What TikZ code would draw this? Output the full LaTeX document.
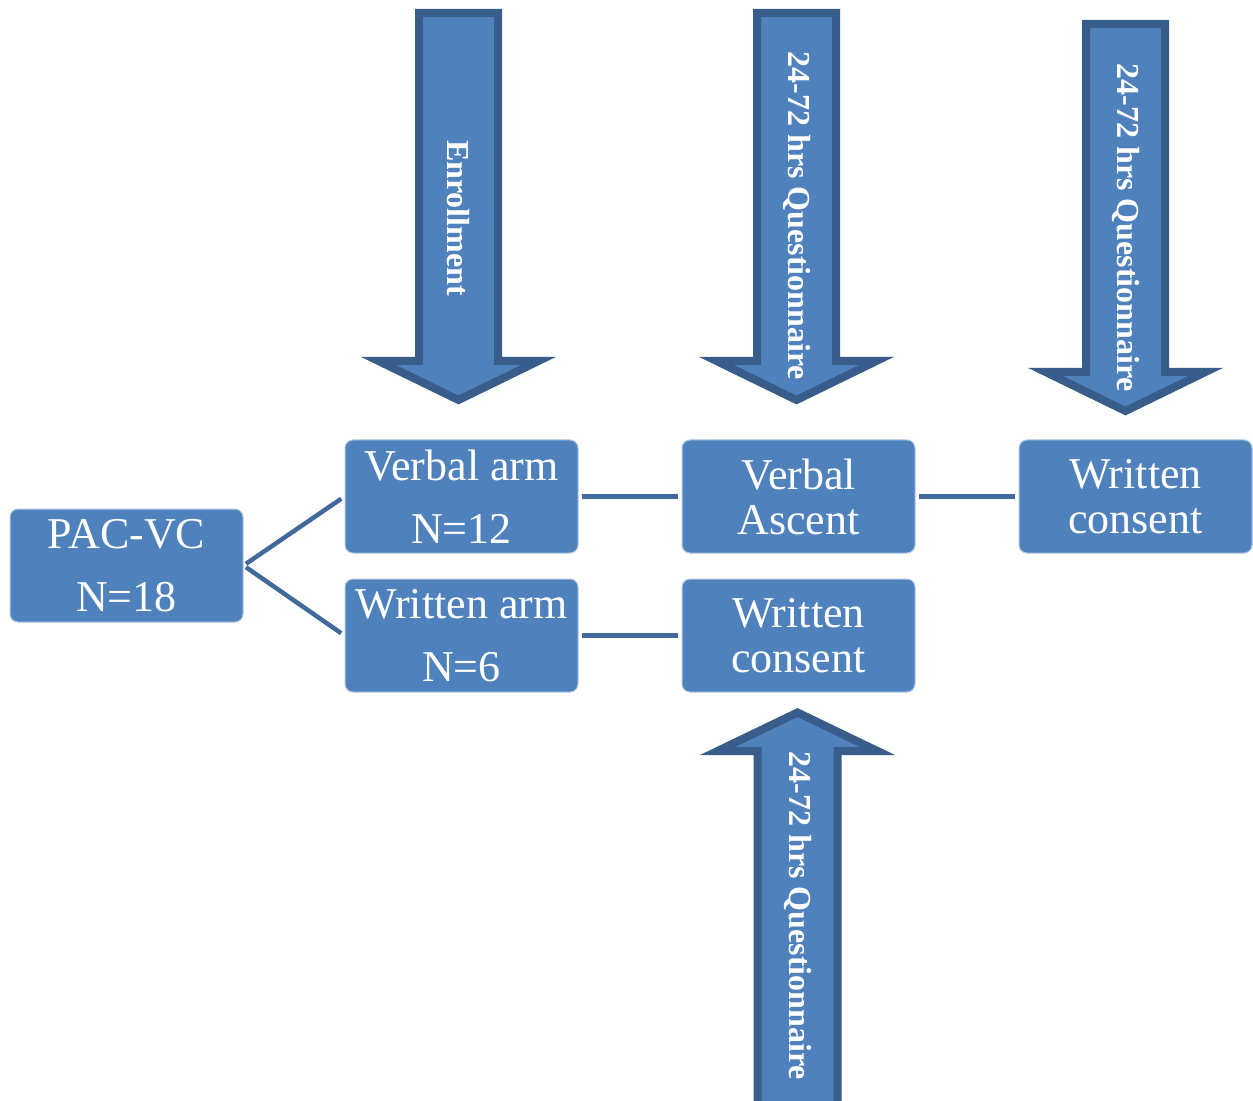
\documentclass[tikz,border=0pt]{standalone}
\usepackage{fontspec}
\setmainfont{Liberation Serif}
\usetikzlibrary{positioning}
\definecolor{boxblue}{HTML}{4F81BD}
\definecolor{edgeblue}{HTML}{385D8A}
\definecolor{linkblue}{HTML}{41699C}
\tikzset{
  stage/.style={fill=boxblue, draw=white!55!boxblue, line width=0.5pt, rounded corners=4pt,
                minimum width=116.5pt, minimum height=56.5pt, inner sep=0pt,
                text=white, align=center, font=\fontsize{22}{22.5}\selectfont},
  blockarr/.style={fill=boxblue, draw=edgeblue, line width=4pt, line join=miter},
  arrlabel/.style={rotate=-90, text=white, inner sep=0pt,
                   font=\bfseries\fontsize{16}{18}\selectfont},
  link/.style={draw=linkblue, line width=2.25pt, shorten <=1.5pt, shorten >=2pt}
}

\begin{document}
\begin{tikzpicture}[x=0.5pt, y=-0.5pt]
  \useasboundingbox (0,0) rectangle (1253,1101);
  % block arrows pointing down
  \foreach \cx/\tp/\bs in {458.5/13/361, 796.5/13/361, 1125.5/24/372}
    \draw[blockarr] ({\cx-39.5},\tp) -- ({\cx+39.5},\tp) -- ({\cx+39.5},\bs)
      -- ({\cx+80},\bs) -- (\cx,{\bs+39}) -- ({\cx-80},\bs) -- ({\cx-39.5},\bs) -- cycle;
  % block arrow pointing up
  \draw[blockarr] (757.5,1110) -- (837.5,1110) -- (837.5,751) -- (877.5,751)
    -- (797.5,712.5) -- (717.5,751) -- (757.5,751) -- cycle;
  \node[arrlabel] (enrol) at (458.5,218) {Enrollment};
  \node[arrlabel] (q1) at (796.5,216) {24-72 hrs Questionnaire};
  \node[arrlabel] (q2) at (1125.5,228) {24-72 hrs Questionnaire};
  \node[arrlabel] (q3) at (797.5,916) {24-72 hrs Questionnaire};
  % stages
  \node[stage] (pac) at (126.5,565.5) {PAC-VC\\[9pt]N=18};
  \node[stage] (varm) at (461.5,496.5) {Verbal arm\\[9pt]N=12};
  \node[stage, below=12.5pt of varm] (warm) {Written arm\\[9pt]N=6};
  \node[stage, right=51.5pt of varm] (ascent) {Verbal\\Ascent};
  \node[stage, below=12.5pt of ascent] (wcons) {Written\\consent};
  \node[stage, right=51.5pt of ascent] (wfinal) {Written\\consent};
  \draw[link] (pac.east) -- (varm.west);
  \draw[link] (pac.east) -- (warm.west);
  \draw[link] (varm) -- (ascent);
  \draw[link] (warm) -- (wcons);
  \draw[link] (ascent) -- (wfinal);
\end{tikzpicture}
\end{document}
